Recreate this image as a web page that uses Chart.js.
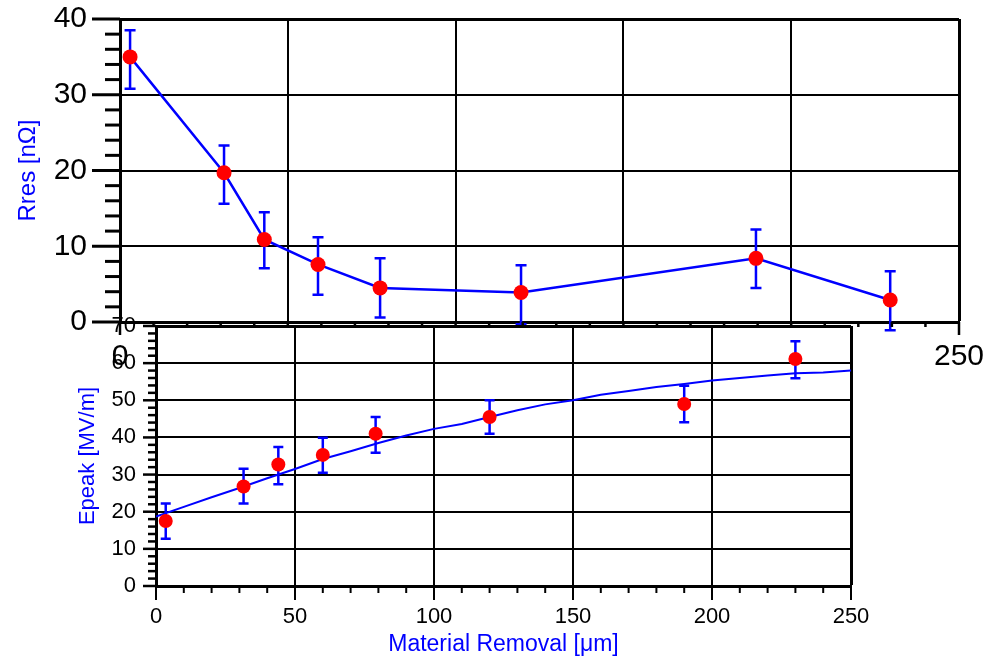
<!DOCTYPE html>
<html>
<head>
<meta charset="utf-8">
<script src="https://cdn.jsdelivr.net/npm/chart.js@4.4.1/dist/chart.umd.min.js"></script>
<style>
    html, body { margin: 0; padding: 0; background: #fff; }
    #wrap { position: relative; width: 995px; height: 658px; }
    #wrap canvas { position: absolute; left: 0; top: 0; }
</style>
</head>
<body>
<div id="wrap">
    <canvas id="rres-chart" width="995" height="658"></canvas>
    <canvas id="epeak-chart" width="995" height="658"></canvas>
</div>
<script>
const FONT = "'Liberation Sans', Arial, Helvetica, sans-serif";
const BLUE = "#0000ff";
const RED = "#ff0000";

// upper panel: residual resistance vs material removal
const rresRemoval = [3, 31, 43, 59, 77.5, 119.5, 189.5, 229.5];
const rresValues = [35.0, 19.7, 10.9, 7.6, 4.5, 3.9, 8.4, 2.9];
const rresHigh = [38.5, 23.3, 14.5, 11.2, 8.4, 7.5, 12.2, 6.7];
const rresLow = [30.8, 15.6, 7.1, 3.6, 0.6, -0.3, 4.5, -1.1];

// lower panel: peak field vs material removal
const epeakRemoval = [3.5, 31.5, 44, 60, 79, 120, 190, 230];
const epeakValues = [17.5, 26.8, 32.7, 35.3, 41.0, 45.5, 49.0, 61.1];
const epeakHigh = [22.2, 31.6, 37.4, 39.9, 45.5, 50.0, 53.9, 65.9];
const epeakLow = [12.7, 22.2, 27.4, 30.5, 35.9, 41.0, 44.1, 55.9];

// fitted curve, every 10 um
const fitRemoval = [0, 10, 20, 30, 40, 50, 60, 70, 80, 90, 100, 110, 120,
    130, 140, 150, 160, 170, 180, 190, 200, 210, 220, 230, 240, 250];
const fitEpeak = [18.7, 21.3, 23.9, 26.4, 29.0, 31.5, 34.2, 36.3, 38.5, 40.5, 42.3, 43.6, 45.5,
    47.3, 48.9, 50.0, 51.5, 52.5, 53.6, 54.4, 55.3, 56.0, 56.7, 57.3, 57.5, 58.0];

const toPoints = (xs, ys) => xs.map((x, i) => ({ x, y: ys[i] }));
const isMultiple = (v, step) => Math.abs(v / step - Math.round(v / step)) < 1e-6;

const errorBars = {
    id: "errorBars",
    beforeDatasetsDraw(chart, args, opts) {
        const { ctx, scales } = chart;
        ctx.save();
        ctx.strokeStyle = BLUE;
        ctx.lineWidth = opts.width;
        opts.x.forEach((xv, i) => {
            const x = scales.x.getPixelForValue(xv);
            const lo = scales.y.getPixelForValue(opts.low[i]);
            const hi = scales.y.getPixelForValue(opts.high[i]);
            ctx.beginPath();
            ctx.moveTo(x, lo);
            ctx.lineTo(x, hi);
            ctx.moveTo(x - opts.cap, lo);
            ctx.lineTo(x + opts.cap, lo);
            ctx.moveTo(x - opts.cap, hi);
            ctx.lineTo(x + opts.cap, hi);
            ctx.stroke();
        });
        ctx.restore();
    },
};

// major and minor tick marks pointing out of the plot
const axisTicks = {
    id: "axisTicks",
    afterDraw(chart, args, opts) {
        const { ctx } = chart;
        ctx.save();
        ctx.strokeStyle = "#000";
        opts.axes.forEach((a) => {
            const scale = chart.scales[a.id];
            ctx.lineWidth = a.width;
            for (let v = scale.min; v <= scale.max + 1e-9; v += a.minor) {
                const len = isMultiple(v, a.major) ? a.majorLen : a.minorLen;
                const p = scale.getPixelForValue(v);
                ctx.beginPath();
                if (scale.isHorizontal()) {
                    ctx.moveTo(p, scale.top);
                    ctx.lineTo(p, scale.top + len);
                } else {
                    ctx.moveTo(scale.right, p);
                    ctx.lineTo(scale.right - len, p);
                }
                ctx.stroke();
            }
        });
        ctx.restore();
    },
};

const plotBackground = {
    id: "plotBackground",
    beforeDraw(chart) {
        const { ctx, chartArea: a } = chart;
        ctx.save();
        ctx.fillStyle = "#fff";
        ctx.fillRect(a.left, a.top, a.right - a.left, a.bottom - a.top);
        ctx.restore();
    },
};

function linearAxis(min, max, step, labelStep, fontSize, padding, size) {
    return {
        type: "linear",
        min,
        max,
        ticks: {
            stepSize: step,
            autoSkip: false,
            maxRotation: 0,
            padding,
            color: "#000",
            font: { family: FONT, size: fontSize },
            callback: (v) => (isMultiple(v, labelStep) ? v : ""),
        },
        grid: {
            drawTicks: false,
            color: (c) => (isMultiple(c.tick.value, labelStep) ? "#000" : "rgba(0,0,0,0)"),
            lineWidth: (c) => (c.tick.value === max ? 3 : 2),
        },
        border: { color: "#000", width: 3 },
        // fixed axis box, no extra room for overflowing labels
        afterFit(s) {
            if (s.isHorizontal()) {
                s.height = size;
            } else {
                s.width = size;
            }
            s.paddingTop = 0;
            s.paddingBottom = 0;
            s.paddingLeft = 0;
            s.paddingRight = 0;
        },
    };
}

// upper chart
const rresX = linearAxis(0, 250, 10, 50, 30, 17, 60);
const rresY = linearAxis(0, 40, 2, 10, 30, 33, 120);
rresY.title = {
    display: true,
    text: "Rres [nΩ]",
    color: BLUE,
    font: { family: FONT, size: 24 },
    padding: { top: 14, bottom: 0 },
};

new Chart(document.getElementById("rres-chart"), {
    type: "scatter",
    data: {
        datasets: [
            {
                data: toPoints(rresRemoval, rresValues),
                showLine: true,
                borderColor: BLUE,
                borderWidth: 2.5,
                pointRadius: 7.5,
                pointBackgroundColor: RED,
                pointBorderWidth: 0,
                clip: false,
            },
        ],
    },
    options: {
        responsive: false,
        animation: false,
        layout: { padding: { top: 19, right: 36, bottom: 276, left: 0 } },
        plugins: {
            legend: { display: false },
            tooltip: { enabled: false },
            errorBars: { x: rresRemoval, low: rresLow, high: rresHigh, width: 2.5, cap: 5.5 },
            axisTicks: {
                axes: [
                    { id: "x", minor: 10, major: 50, minorLen: 5, majorLen: 13, width: 2.5 },
                    { id: "y", minor: 2, major: 10, minorLen: 15, majorLen: 28, width: 3 },
                ],
            },
        },
        scales: { x: rresX, y: rresY },
    },
    plugins: [errorBars, axisTicks],
});

// lower chart, drawn over the upper one
const epeakX = linearAxis(0, 250, 10, 50, 22, 18, 72);
epeakX.title = {
    display: true,
    text: "Material Removal [μm]",
    color: BLUE,
    font: { family: FONT, size: 23 },
    padding: { top: 1, bottom: 0 },
};
const epeakY = linearAxis(0, 70, 2, 10, 22, 20, 156);
epeakY.title = {
    display: true,
    text: "Epeak [MV/m]",
    color: BLUE,
    font: { family: FONT, size: 22 },
    padding: { top: 75, bottom: 0 },
};

new Chart(document.getElementById("epeak-chart"), {
    type: "scatter",
    data: {
        datasets: [
            {
                data: toPoints(epeakRemoval, epeakValues),
                pointRadius: 7,
                pointBackgroundColor: RED,
                pointBorderWidth: 0,
                clip: false,
            },
            {
                data: toPoints(fitRemoval, fitEpeak),
                showLine: true,
                borderColor: BLUE,
                borderWidth: 2,
                pointRadius: 0,
            },
        ],
    },
    options: {
        responsive: false,
        animation: false,
        layout: { padding: { top: 326, right: 144, bottom: 0, left: 0 } },
        plugins: {
            legend: { display: false },
            tooltip: { enabled: false },
            errorBars: { x: epeakRemoval, low: epeakLow, high: epeakHigh, width: 2.5, cap: 5 },
            axisTicks: {
                axes: [
                    { id: "x", minor: 10, major: 50, minorLen: 7, majorLen: 14, width: 2 },
                    { id: "y", minor: 2, major: 10, minorLen: 8, majorLen: 13, width: 2.5 },
                ],
            },
        },
        scales: { x: epeakX, y: epeakY },
    },
    plugins: [plotBackground, errorBars, axisTicks],
});
</script>
</body>
</html>
